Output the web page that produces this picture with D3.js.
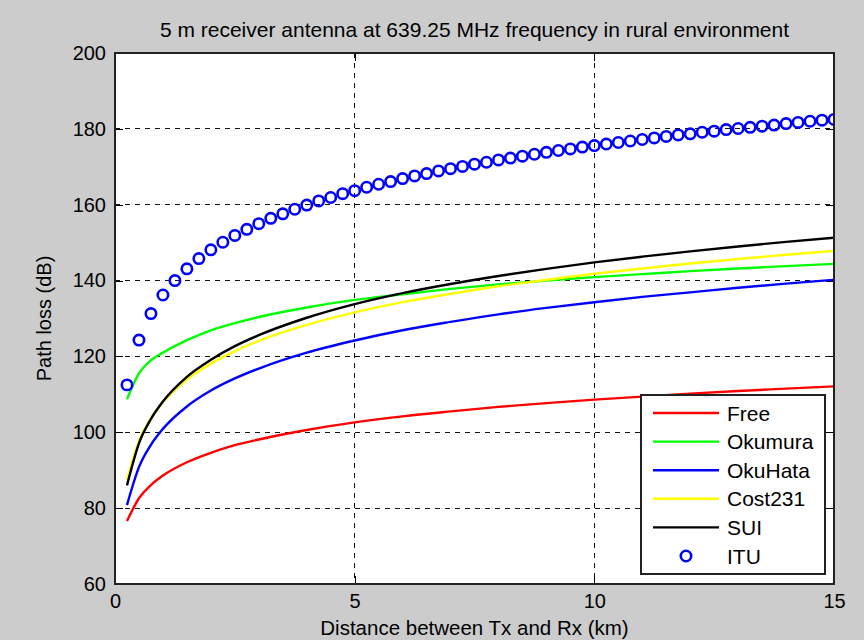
<!DOCTYPE html>
<html>
<head>
<meta charset="utf-8">
<script src="https://cdn.jsdelivr.net/npm/d3@7"></script>
<style>
    body { margin: 0; background: #cccccc; }
    svg text { font-family: Arial, "Liberation Sans", sans-serif; fill: #000; }
</style>
</head>
<body>
<div id="path-loss-chart"></div>
<script>
// distances (km) used by the model curves
const distances = [0.25, 0.5, 0.75, 1, 1.5, 2, 2.5, 3, 4, 5, 6, 7, 8, 9, 10, 11, 12, 13, 14, 15];

const freeLoss    = [76.6, 82.6, 86.1, 88.6, 92.1, 94.6, 96.6, 98.1, 100.6, 102.6, 104.2, 105.5, 106.7, 107.7, 108.6, 109.4, 110.2, 110.9, 111.5, 112.1];
const okumuraLoss = [108.7, 115.5, 119.0, 121.0, 124.3, 126.9, 128.8, 130.4, 132.9, 134.9, 136.4, 137.8, 139.0, 140.0, 140.9, 141.7, 142.5, 143.2, 143.8, 144.4];
const okuHataLoss = [80.8, 90.8, 96.7, 100.9, 106.8, 111.0, 114.2, 116.8, 121.0, 124.2, 126.9, 129.1, 131.1, 132.8, 134.3, 135.7, 136.9, 138.1, 139.2, 140.2];
const cost231Loss = [87.5, 97.7, 103.7, 107.9, 113.9, 118.1, 121.4, 124.1, 128.3, 131.6, 134.3, 136.5, 138.5, 140.2, 141.8, 143.2, 144.5, 145.7, 146.8, 147.8];
const suiLoss     = [86.0, 97.1, 103.5, 108.1, 114.6, 119.1, 122.7, 125.6, 130.2, 133.8, 136.7, 139.1, 141.2, 143.1, 144.8, 146.3, 147.7, 149.0, 150.2, 151.3];

// ITU is plotted as markers every 0.25 km
const ituDistances = [0.25, 0.5, 0.75, 1, 1.25, 1.5, 1.75, 2, 2.25, 2.5, 2.75, 3, 3.25, 3.5, 3.75, 4, 4.25, 4.5, 4.75, 5,
    5.25, 5.5, 5.75, 6, 6.25, 6.5, 6.75, 7, 7.25, 7.5, 7.75, 8, 8.25, 8.5, 8.75, 9, 9.25, 9.5, 9.75, 10,
    10.25, 10.5, 10.75, 11, 11.25, 11.5, 11.75, 12, 12.25, 12.5, 12.75, 13, 13.25, 13.5, 13.75, 14, 14.25, 14.5, 14.75, 15];
const ituLoss = [112.5, 124.3, 131.3, 136.2, 140.0, 143.1, 145.8, 148.1, 150.1, 151.9, 153.5, 155.0, 156.4, 157.6, 158.8, 159.9, 161.0, 161.9, 162.9, 163.7,
    164.6, 165.4, 166.1, 166.9, 167.6, 168.2, 168.9, 169.5, 170.1, 170.7, 171.2, 171.8, 172.3, 172.8, 173.3, 173.8, 174.3, 174.7, 175.2, 175.6,
    176.0, 176.4, 176.8, 177.2, 177.6, 178.0, 178.4, 178.7, 179.1, 179.4, 179.8, 180.1, 180.4, 180.7, 181.0, 181.4, 181.7, 182.0, 182.3, 182.5];

const xTicks = [0, 5, 10, 15];
const yTicks = [60, 80, 100, 120, 140, 160, 180, 200];

const width = 864;
const height = 640;
const plotLeft = 115, plotRight = 834, plotTop = 53, plotBottom = 584;

const svg = d3.select("#path-loss-chart")
    .append("svg")
    .attr("width", width)
    .attr("height", height);

const x = d3.scaleLinear().domain([0, 15]).range([plotLeft, plotRight]);
const y = d3.scaleLinear().domain([60, 200]).range([plotBottom, plotTop]);

svg.append("rect")
    .attr("x", plotLeft).attr("y", plotTop)
    .attr("width", plotRight - plotLeft).attr("height", plotBottom - plotTop)
    .attr("fill", "#fff");

// dashed grid
const grid = svg.append("g").attr("stroke", "#111").attr("stroke-dasharray", "5,5").attr("stroke-width", 1);
grid.selectAll(".gx").data(xTicks.slice(1, -1)).enter().append("line")
    .attr("x1", d => x(d)).attr("x2", d => x(d))
    .attr("y1", plotTop).attr("y2", plotBottom)
    .attr("shape-rendering", "crispEdges");
grid.selectAll(".gy").data(yTicks.slice(1, -1)).enter().append("line")
    .attr("y1", d => y(d)).attr("y2", d => y(d))
    .attr("x1", plotLeft).attr("x2", plotRight)
    .attr("shape-rendering", "crispEdges");

// inward ticks on all four sides, labels only bottom/left
const fontSize = 20;
const styleAxis = g => {
    g.select(".domain").remove();
    g.selectAll("line").attr("stroke", "#000").attr("shape-rendering", "crispEdges");
    g.selectAll("text").style("font-size", fontSize + "px").attr("fill", "#000");
};
svg.append("g").attr("transform", `translate(0,${plotBottom})`)
    .call(d3.axisBottom(x).tickValues(xTicks).tickSize(-8).tickPadding(10).tickFormat(d3.format("d")))
    .call(styleAxis);
svg.append("g").attr("transform", `translate(0,${plotTop})`)
    .call(d3.axisTop(x).tickValues(xTicks).tickSize(-8).tickFormat(""))
    .call(styleAxis);
svg.append("g").attr("transform", `translate(${plotLeft},0)`)
    .call(d3.axisLeft(y).tickValues(yTicks).tickSize(-8).tickPadding(9).tickFormat(d3.format("d")))
    .call(styleAxis);
svg.append("g").attr("transform", `translate(${plotRight},0)`)
    .call(d3.axisRight(y).tickValues(yTicks).tickSize(-8).tickFormat(""))
    .call(styleAxis);

svg.append("defs").append("clipPath").attr("id", "plot-clip")
    .append("rect")
    .attr("x", plotLeft).attr("y", plotTop)
    .attr("width", plotRight - plotLeft).attr("height", plotBottom - plotTop);

const series = [
    { name: "Free", color: "#ff0000", values: freeLoss },
    { name: "Okumura", color: "#00ff00", values: okumuraLoss },
    { name: "OkuHata", color: "#0000ff", values: okuHataLoss },
    { name: "Cost231", color: "#ffff00", values: cost231Loss },
    { name: "SUI", color: "#000000", values: suiLoss }
];

const line = d3.line()
    .x(d => x(d[0]))
    .y(d => y(d[1]))
    .curve(d3.curveMonotoneX);

const plot = svg.append("g").attr("clip-path", "url(#plot-clip)");

plot.selectAll(".model")
    .data(series)
    .enter()
    .append("path")
    .attr("d", s => line(distances.map((d, i) => [d, s.values[i]])))
    .attr("fill", "none")
    .attr("stroke", s => s.color)
    .attr("stroke-width", 2.4);

plot.selectAll(".itu")
    .data(ituDistances.map((d, i) => [d, ituLoss[i]]))
    .enter()
    .append("circle")
    .attr("cx", d => x(d[0]))
    .attr("cy", d => y(d[1]))
    .attr("r", 5.2)
    .attr("fill", "none")
    .attr("stroke", "#0000ff")
    .attr("stroke-width", 2.6);

// frame
svg.append("rect")
    .attr("x", plotLeft).attr("y", plotTop)
    .attr("width", plotRight - plotLeft).attr("height", plotBottom - plotTop)
    .attr("fill", "none")
    .attr("stroke", "#222")
    .attr("stroke-width", 1.2)
    .attr("shape-rendering", "crispEdges");

// titles
svg.append("text")
    .attr("x", (plotLeft + plotRight) / 2).attr("y", 37)
    .attr("text-anchor", "middle")
    .style("font-size", "21px")
    .text("5 m receiver antenna at 639.25 MHz frequency in rural environment");

svg.append("text")
    .attr("x", (plotLeft + plotRight) / 2).attr("y", 635)
    .attr("text-anchor", "middle")
    .style("font-size", "20.5px")
    .text("Distance between Tx and Rx (km)");

svg.append("text")
    .attr("transform", `translate(51,${(plotTop + plotBottom) / 2}) rotate(-90)`)
    .attr("text-anchor", "middle")
    .style("font-size", fontSize + "px")
    .text("Path loss (dB)");

// legend
const legend = svg.append("g");
legend.append("rect")
    .attr("x", 641).attr("y", 395)
    .attr("width", 184).attr("height", 179)
    .attr("fill", "#fff")
    .attr("stroke", "#222")
    .attr("stroke-width", 1.2)
    .attr("shape-rendering", "crispEdges");

const legendItems = series.concat([{ name: "ITU", color: "#0000ff", marker: true }]);
const rowY = i => 413 + i * 28.6;

legendItems.forEach((item, i) => {
    if (item.marker) {
        legend.append("circle")
            .attr("cx", 686).attr("cy", rowY(i))
            .attr("r", 5.2)
            .attr("fill", "none")
            .attr("stroke", item.color)
            .attr("stroke-width", 2.6);
    } else {
        legend.append("line")
            .attr("x1", 653).attr("x2", 719)
            .attr("y1", rowY(i)).attr("y2", rowY(i))
            .attr("stroke", item.color)
            .attr("stroke-width", 2.4);
    }
    legend.append("text")
        .attr("x", 727).attr("y", rowY(i))
        .attr("dy", "0.36em")
        .style("font-size", "21px")
        .text(item.name);
});
</script>
</body>
</html>
